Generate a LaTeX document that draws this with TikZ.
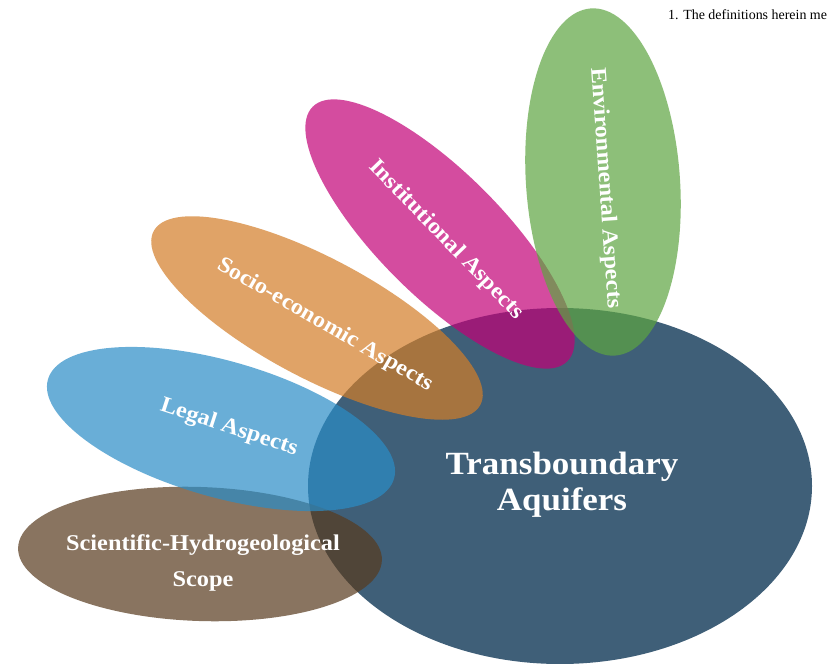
\documentclass[tikz,border=0pt]{standalone}
\usepackage{fontspec}
\setmainfont{Liberation Serif}
\newfontfamily\labfont[FakeStretch=1.08]{Liberation Serif}
\definecolor{cTBA}{RGB}{63,95,120}
\definecolor{cSci}{RGB}{88,58,29}
\definecolor{cLeg}{RGB}{42,141,199}
\definecolor{cSoc}{RGB}{211,125,39}
\definecolor{cIns}{RGB}{194,0,119}
\definecolor{cEnv}{RGB}{94,165,65}
\tikzset{
  blob/.style={fill opacity=0.7},
  lab/.style={text=white, font=\labfont\bfseries\fontsize{22.5}{26}\selectfont, inner sep=0pt, align=center},
  biglab/.style={text=white, font=\labfont\bfseries\fontsize{32.5}{36}\selectfont, inner sep=0pt, align=center},
}
\begin{document}
\begin{tikzpicture}[x=1bp,y=-1bp]
\useasboundingbox (0,0) rectangle (831,664);
\fill[white] (0,0) rectangle (831,664);
% ellipses
\coordinate (cT) at (560,486);
\coordinate (cS) at (200,554);
\coordinate (cL) at (221,429);
\coordinate (cO) at (317,318);
\coordinate (cI) at (440,234);
\coordinate (cE) at (603,182);
\fill[cTBA] (cT) ellipse [x radius=252, y radius=178];
\fill[cSci, blob, rotate around={-2:(cS)}] (cS) ellipse [x radius=182, y radius=67];
\fill[cLeg, blob, rotate around={-16:(cL)}] (cL) ellipse [x radius=180, y radius=68];
\fill[cSoc, blob, rotate around={-28:(cO)}] (cO) ellipse [x radius=185, y radius=60];
\fill[cIns, blob, rotate around={-45:(cI)}] (cI) ellipse [x radius=180, y radius=62];
\fill[cEnv, blob, rotate around={4:(cE)}] (cE) ellipse [x radius=77, y radius=174];
% labels
\node[biglab] (tba) at (562,485) {Transboundary\\[0pt]Aquifers};
\node[lab, font=\labfont\bfseries\fontsize{22.6}{36}\selectfont] (sci) at (203,563) {Scientific-Hydrogeological\\Scope};
\node[lab, rotate=-18] (leg) at (229,428) {Legal Aspects};
\node[lab, rotate=-30] (soc) at (325,325) {Socio-economic Aspects};
\node[lab, rotate=-46] (ins) at (446,240) {Institutional Aspects};
\node[lab, rotate=-86] (env) at (605,188) {Environmental Aspects};
\node[anchor=west, inner sep=0pt, font=\fontsize{14}{16}\selectfont] (note) at (668,15) {1. The definitions herein me};
\end{tikzpicture}
\end{document}
